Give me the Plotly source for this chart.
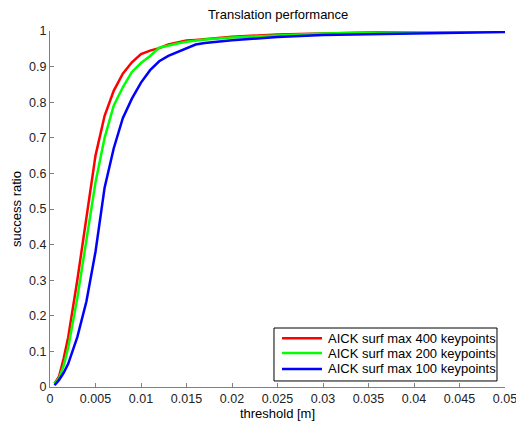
import plotly.graph_objects as go

thresholds = [0.0005, 0.001, 0.0015, 0.002, 0.003, 0.004, 0.005, 0.006, 0.007, 0.008,
              0.009, 0.010, 0.011, 0.012, 0.013, 0.014, 0.015, 0.016, 0.017, 0.020,
              0.025, 0.030, 0.035, 0.040, 0.045, 0.050]

ratio_400 = [0.01, 0.03, 0.08, 0.14, 0.30, 0.47, 0.65, 0.762, 0.832, 0.88,
             0.912, 0.935, 0.945, 0.952, 0.962, 0.968, 0.973, 0.975, 0.977, 0.984,
             0.990, 0.994, 0.996, 0.998, 1.0, 1.0]

ratio_200 = [0.01, 0.025, 0.06, 0.11, 0.25, 0.41, 0.575, 0.70, 0.79, 0.842,
             0.885, 0.91, 0.93, 0.953, 0.96, 0.965, 0.97, 0.973, 0.976, 0.982,
             0.988, 0.993, 0.995, 0.997, 0.998, 0.999]

ratio_100 = [0.005, 0.02, 0.04, 0.065, 0.14, 0.24, 0.38, 0.56, 0.67, 0.755,
             0.81, 0.855, 0.89, 0.915, 0.93, 0.94, 0.952, 0.962, 0.966, 0.974,
             0.983, 0.989, 0.991, 0.993, 0.995, 0.997]

series = [
    ("AICK surf max 400 keypoints", ratio_400, "#ff0000"),
    ("AICK surf max 200 keypoints", ratio_200, "#00ff00"),
    ("AICK surf max 100 keypoints", ratio_100, "#0000ff"),
]

x_ticks = [0, 0.005, 0.01, 0.015, 0.02, 0.025, 0.03, 0.035, 0.04, 0.045, 0.05]
x_tick_text = ["0", "0.005", "0.01", "0.015", "0.02", "0.025", "0.03", "0.035", "0.04", "0.045", "0.05"]
y_ticks = [0, 0.1, 0.2, 0.3, 0.4, 0.5, 0.6, 0.7, 0.8, 0.9, 1]
y_tick_text = ["0", "0.1", "0.2", "0.3", "0.4", "0.5", "0.6", "0.7", "0.8", "0.9", "1"]

FONT = "Liberation Sans, Arial, sans-serif"

fig = go.Figure()
for name, vals, color in series:
    fig.add_trace(go.Scatter(x=thresholds, y=vals, mode="lines", name=name,
                             line=dict(color=color, width=2.5), showlegend=False))

# Legend drawn as a boxed key in paper coordinates
leg_x0, leg_x1, leg_y0, leg_y1 = 0.4923, 0.9824, 0.0169, 0.1657
row_y = [0.1368, 0.0955, 0.0506]
fig.add_shape(type="rect", xref="paper", yref="paper", x0=leg_x0, x1=leg_x1,
              y0=leg_y0, y1=leg_y1, line=dict(color="#000000", width=1),
              fillcolor="white", layer="above")
for (name, vals, color), ry in zip(series, row_y):
    fig.add_shape(type="line", xref="paper", yref="paper", x0=0.5099, x1=0.5978,
                  y0=ry, y1=ry, line=dict(color=color, width=2.5), layer="above")
    fig.add_annotation(xref="paper", yref="paper", x=0.6059, y=ry, text=name,
                       showarrow=False, xanchor="left", yanchor="middle",
                       font=dict(family=FONT, size=13, color="#000000"))

fig.update_layout(
    width=516, height=426,
    margin=dict(l=50, r=11, t=31, b=39),
    paper_bgcolor="white", plot_bgcolor="white",
    font=dict(family=FONT, size=13, color="#000000"),
    title=dict(text="Translation performance", x=0.539, xanchor="center",
               y=0.967, yanchor="middle", font=dict(size=13, color="#000000")),
    showlegend=False,
    xaxis=dict(range=[0, 0.05], tickvals=x_ticks, ticktext=x_tick_text,
               showgrid=False, zeroline=False, showline=True, linecolor="#808080",
               linewidth=1, ticks="inside", ticklen=4, tickcolor="#808080",
               automargin=False, ticklabeloverflow="allow",
               title=dict(text="threshold [m]", standoff=2, font=dict(size=13)),
               tickfont=dict(size=12.5, color="#222222")),
    yaxis=dict(range=[0, 1], tickvals=y_ticks, ticktext=y_tick_text,
               showgrid=False, zeroline=False, showline=True, linecolor="#808080",
               linewidth=1, ticks="inside", ticklen=4, tickcolor="#808080",
               automargin=False, ticklabeloverflow="allow",
               title=dict(text="success ratio", standoff=4, font=dict(size=13)),
               tickfont=dict(size=12.5, color="#222222")),
)

fig.write_html("out.html")
